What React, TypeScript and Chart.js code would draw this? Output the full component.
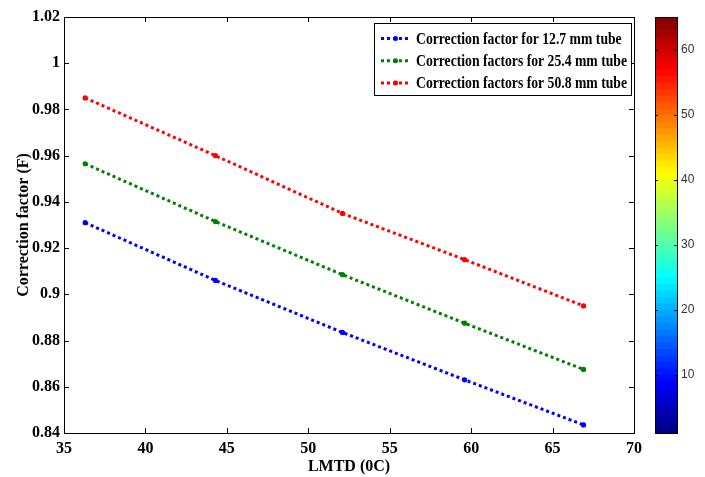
import React, { useEffect, useRef } from 'react';
import { Chart, registerables } from 'chart.js';

Chart.register(...registerables);

// ---- data ----
const lmtd = [36.3, 44.3, 52.1, 59.6, 66.9];
const cf127 = [0.931, 0.906, 0.8835, 0.863, 0.8435];
const cf254 = [0.9565, 0.9315, 0.9085, 0.8875, 0.8675];
const cf508 = [0.985, 0.96, 0.935, 0.915, 0.895];
const seriesLabels = [
  'Correction factor for 12.7 mm tube',
  'Correction factors for 25.4 mm tube',
  'Correction factors for 50.8 mm tube',
];
const seriesColors = ['#0000ff', '#008000', '#ff0000'];
const xTicks = [35, 40, 45, 50, 55, 60, 65, 70];
const yTicks = [0.84, 0.86, 0.88, 0.9, 0.92, 0.94, 0.96, 0.98, 1.0, 1.02];
const cbTicks = [10, 20, 30, 40, 50, 60];
const cbMin = 1;
const cbMax = 65;
const xTitle = 'LMTD (0C)';
const yTitle = 'Correction factor (F)';

const W = 705;
const H = 477;
const AREA = { left: 64, right: 634, top: 17, bottom: 433 };
const SERIF = "'Liberation Serif', 'Times New Roman', serif";
const SANS = "'Liberation Sans', Arial, sans-serif";

function jet(t: number): string {
  const c = (v: number) => Math.round(255 * Math.max(0, Math.min(1, v)));
  const r = c(1.5 - Math.abs(4 * t - 3));
  const g = c(1.5 - Math.abs(4 * t - 2));
  const b = c(1.5 - Math.abs(4 * t - 1));
  return `rgb(${r},${g},${b})`;
}

const decorPlugin = {
  id: 'matlabDecor',
  afterDraw(chart: any) {
    const ctx: CanvasRenderingContext2D = chart.ctx;
    const a = chart.chartArea;
    const xs = chart.scales.x;
    const ys = chart.scales.y;
    const cb = chart.scales.cb;
    ctx.save();
    // box
    ctx.strokeStyle = '#000';
    ctx.lineWidth = 1;
    ctx.setLineDash([]);
    ctx.strokeRect(Math.round(a.left) + 0.5, Math.round(a.top) + 0.5, Math.round(a.right - a.left), Math.round(a.bottom - a.top));
    // inward ticks
    const tl = 5;
    ctx.beginPath();
    xTicks.forEach((v) => {
      const px = Math.round(xs.getPixelForValue(v)) + 0.5;
      ctx.moveTo(px, a.bottom);
      ctx.lineTo(px, a.bottom - tl);
      ctx.moveTo(px, a.top);
      ctx.lineTo(px, a.top + tl);
    });
    yTicks.forEach((v) => {
      const py = Math.round(ys.getPixelForValue(v)) + 0.5;
      ctx.moveTo(a.left, py);
      ctx.lineTo(a.left + tl, py);
      ctx.moveTo(a.right, py);
      ctx.lineTo(a.right - tl, py);
    });
    ctx.stroke();

    // colorbar
    const bx0 = cb.left + 21;
    const bx1 = cb.left + 43;
    const n = 64;
    for (let i = 0; i < n; i++) {
      const v0 = cbMin + ((cbMax - cbMin) * i) / n;
      const v1 = cbMin + ((cbMax - cbMin) * (i + 1)) / n;
      const y0 = cb.getPixelForValue(v0);
      const y1 = cb.getPixelForValue(v1);
      ctx.fillStyle = jet((i + 0.5) / n);
      ctx.fillRect(bx0, y1, bx1 - bx0, y0 - y1 + 0.6);
    }
    ctx.strokeStyle = '#000';
    ctx.strokeRect(Math.round(bx0) + 0.5, Math.round(a.top) + 0.5, Math.round(bx1 - bx0), Math.round(a.bottom - a.top));
    ctx.beginPath();
    cbTicks.forEach((v) => {
      const py = Math.round(cb.getPixelForValue(v)) + 0.5;
      ctx.moveTo(bx0, py);
      ctx.lineTo(bx0 + 3, py);
      ctx.moveTo(bx1, py);
      ctx.lineTo(bx1 - 3, py);
    });
    ctx.stroke();

    // legend
    const lx0 = 374, ly0 = 23, lx1 = 631, ly1 = 95;
    ctx.fillStyle = '#fff';
    ctx.fillRect(lx0, ly0, lx1 - lx0, ly1 - ly0);
    ctx.strokeStyle = '#000';
    ctx.lineWidth = 1;
    ctx.strokeRect(lx0 + 0.5, ly0 + 0.5, lx1 - lx0, ly1 - ly0);
    ctx.font = `bold 17px ${SERIF}`;
    let maxW = 0;
    chart.data.datasets.forEach((ds: any) => {
      maxW = Math.max(maxW, ctx.measureText(ds.label).width);
    });
    const k = Math.min(1, 211 / maxW);
    chart.data.datasets.forEach((ds: any, i: number) => {
      const cy = 38.5 + i * 22.3;
      ctx.strokeStyle = ds.borderColor;
      ctx.lineWidth = 3;
      ctx.setLineDash([3, 3]);
      ctx.beginPath();
      ctx.moveTo(381, cy);
      ctx.lineTo(410, cy);
      ctx.stroke();
      ctx.setLineDash([]);
      ctx.fillStyle = ds.borderColor;
      ctx.beginPath();
      ctx.arc(395.5, cy, 2.5, 0, Math.PI * 2);
      ctx.fill();
      ctx.fillStyle = '#000';
      ctx.textBaseline = 'middle';
      ctx.textAlign = 'left';
      const tw = ctx.measureText(ds.label).width;
      ctx.fillText(ds.label, 416, cy + 1, tw * k);
    });
    ctx.restore();
  },
};

export default function App() {
  const ref = useRef<HTMLCanvasElement>(null);
  useEffect(() => {
    const series = [cf127, cf254, cf508];
    const chart = new Chart(ref.current!, {
      type: 'line',
      data: {
        datasets: series.map((vals, si) => ({
          label: seriesLabels[si],
          data: lmtd.map((x, i) => ({ x, y: vals[i] })),
          borderColor: seriesColors[si],
          backgroundColor: seriesColors[si],
          borderWidth: 3,
          borderDash: [3, 3],
          borderCapStyle: 'butt',
          pointRadius: 2.6,
          pointBorderWidth: 0,
          pointBackgroundColor: seriesColors[si],
          fill: false,
          tension: 0,
          yAxisID: 'y',
        })),
      },
      options: {
        responsive: false,
        animation: false,
        events: [],
        layout: { padding: { top: AREA.top, left: 0, right: 0, bottom: 0 } },
        plugins: { legend: { display: false }, tooltip: { enabled: false } },
        scales: {
          x: {
            type: 'linear',
            min: 35,
            max: 70,
            grid: { display: false, drawTicks: false },
            border: { display: false },
            afterBuildTicks: (s: any) => {
              s.ticks = xTicks.map((v) => ({ value: v }));
            },
            afterFit: (s: any) => {
              s.height = H - AREA.bottom;
              s.paddingLeft = 0;
              s.paddingRight = 0;
            },
            ticks: {
              autoSkip: false,
              maxRotation: 0,
              padding: 6,
              color: '#000',
              font: { family: SERIF, size: 16, weight: 'bold' },
              callback: (v: any) => String(v),
            },
            title: {
              display: true,
              text: xTitle,
              color: '#000',
              font: { family: SERIF, size: 16, weight: 'bold' },
              padding: { top: 0, bottom: 0.5 },
            },
          },
          y: {
            type: 'linear',
            position: 'left',
            min: 0.84,
            max: 1.02,
            grid: { display: false, drawTicks: false },
            border: { display: false },
            afterBuildTicks: (s: any) => {
              s.ticks = yTicks.map((v) => ({ value: v }));
            },
            afterFit: (s: any) => {
              s.width = AREA.left;
              s.paddingTop = 0;
              s.paddingBottom = 0;
            },
            ticks: {
              autoSkip: false,
              padding: 4,
              color: '#000',
              font: { family: SERIF, size: 16, weight: 'bold' },
              callback: (v: any) => String(Number(Number(v).toFixed(2))),
            },
            title: {
              display: true,
              text: yTitle,
              color: '#000',
              font: { family: SERIF, size: 16, weight: 'bold' },
              padding: { top: 14, bottom: 0 },
            },
          },
          cb: {
            type: 'linear',
            axis: 'y',
            position: 'right',
            display: true,
            min: cbMin,
            max: cbMax,
            grid: { display: false, drawTicks: false },
            border: { display: false },
            afterBuildTicks: (s: any) => {
              s.ticks = cbTicks.map((v) => ({ value: v }));
            },
            afterFit: (s: any) => {
              s.width = W - AREA.right;
              s.paddingTop = 0;
              s.paddingBottom = 0;
            },
            ticks: {
              autoSkip: false,
              padding: 47,
              color: '#333',
              font: { family: SANS, size: 12 },
            },
          },
        },
      } as any,
      plugins: [decorPlugin],
    });
    return () => chart.destroy();
  }, []);
  return (
    <div style={{ position: 'absolute', left: 0, top: 0, width: W, height: H, background: '#fff' }}>
      <canvas ref={ref} width={W} height={H} style={{ display: 'block' }} />
    </div>
  );
}
